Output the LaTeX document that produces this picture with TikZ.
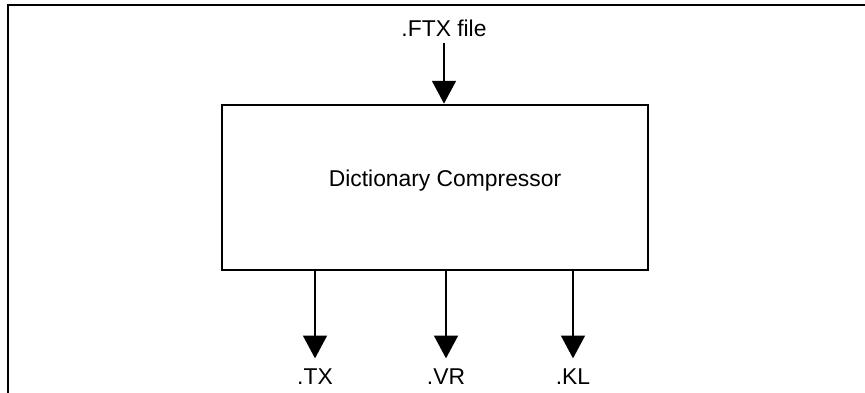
\documentclass[tikz,border=0pt]{standalone}
\usepackage{fontspec}
\setmainfont{Liberation Sans}
\usetikzlibrary{arrows.meta, calc}
\tikzset{
	flow/.style={line width=1.1pt, -{Triangle[width=13.6pt,length=13pt]}},
	txt/.style={font=\fontsize{13}{15}\selectfont},
	ext/.style={txt, inner ysep=6pt, anchor=base},
}

\begin{document}
\begin{tikzpicture}
				\useasboundingbox (0,0) rectangle (17.3,7.86);
				\coordinate (C) at (17.3,7.76);
				\coordinate (O) at (0.16,0);
				\draw[line width=1.1pt] (C) -- (O |- C) -- (O);
				% compressor block
				\node[draw, line width=1.5pt, minimum width=8.52cm, minimum height=3.3cm] (comp) at (8.7,4.11) {};
				\node[txt, anchor=base] (name) at (8.9,4.12) {Dictionary Compressor};
				\node[txt, anchor=base] (ftx) at (8.88,7.12) {.FTX file};
				\draw[flow] (ftx.south) -- (ftx.south |- comp.north);
				% outputs
				\node[ext] (tx) at (6.3,0.16) {.TX};
				\node[ext] (vr) at (8.92,0.16) {.VR};
				\node[ext] (kl) at (11.46,0.16) {.KL};
				\draw[flow] (comp.south -| tx) -- (tx.north);
				\draw[flow] (comp.south -| vr) -- (vr.north);
				\draw[flow] (comp.south -| kl) -- (kl.north);
			\end{tikzpicture}
\end{document}
